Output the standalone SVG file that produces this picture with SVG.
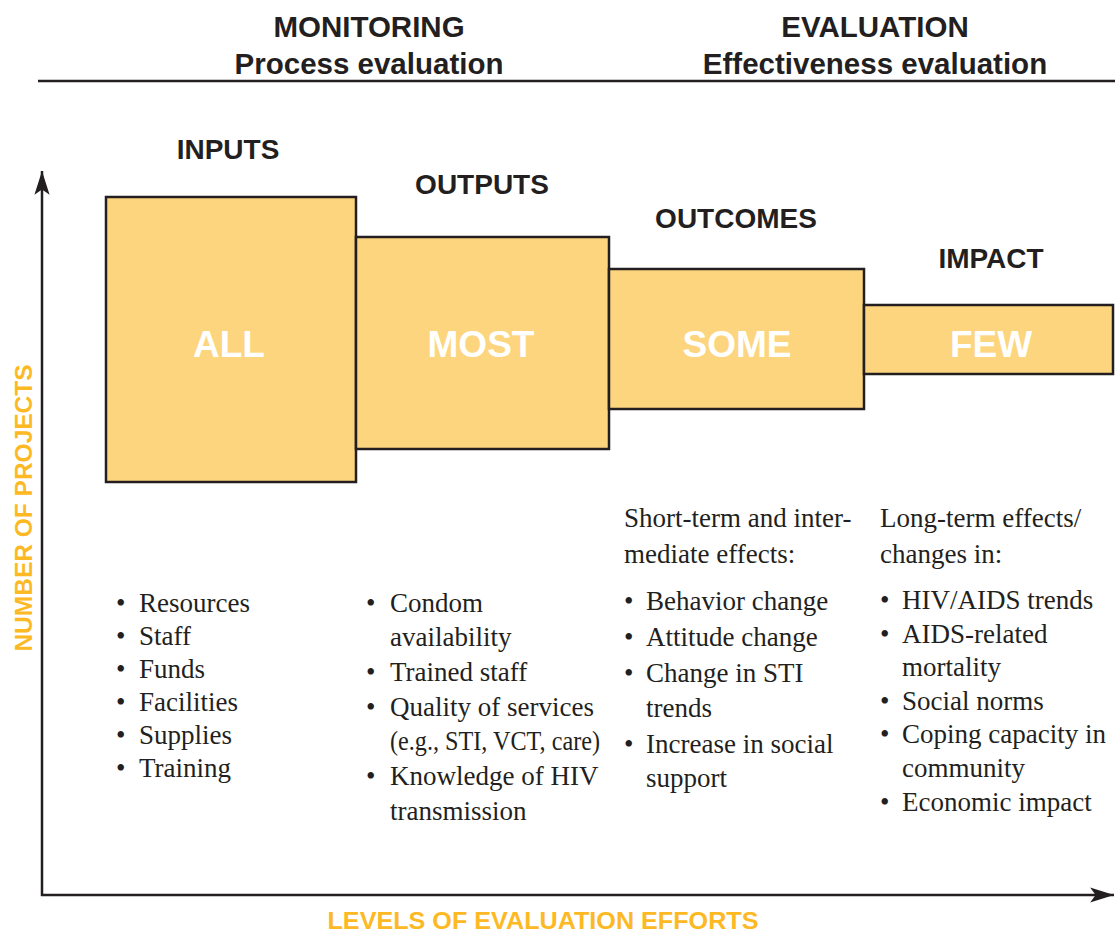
<svg xmlns="http://www.w3.org/2000/svg" width="1115" height="932" viewBox="0 0 1115 932">
<style>
.hd{font-family:"Liberation Sans",Arial,sans-serif;font-weight:bold;fill:#231F20;text-anchor:middle}
.top{font-size:29.5px}
.lab{font-size:28px}
.big{font-family:"Liberation Sans",Arial,sans-serif;font-weight:bold;font-size:37px;fill:#FFFFFF;text-anchor:middle}
.box{fill:#FDD57E;stroke:#231F20;stroke-width:2.5}
.ax{font-family:"Liberation Sans",Arial,sans-serif;font-weight:bold;fill:#FDB924;text-anchor:middle}
.bl{font-family:"Liberation Serif","Times New Roman",serif;font-size:27px;fill:#231F20}
.line{stroke:#231F20;stroke-width:2.5;fill:none}
</style>
<defs>
<marker id="arr" markerUnits="userSpaceOnUse" markerWidth="26" markerHeight="16" refX="22" refY="7" orient="auto" viewBox="0 0 24 14">
<path d="M0,0 L22,7 L0,14 L5,7 Z" fill="#231F20"/>
</marker>
</defs>
<g id="header">
<text class="hd top" x="369" y="37">MONITORING</text>
<text class="hd top" x="369" y="74">Process evaluation</text>
<text class="hd top" x="875" y="37">EVALUATION</text>
<text class="hd top" x="875" y="74">Effectiveness evaluation</text>
<line class="line" x1="38" y1="81" x2="1115" y2="81"/>
</g>
<g id="connectors">
<line class="line" x1="42" y1="896" x2="42" y2="171" marker-end="url(#arr)"/>
<line class="line" x1="41" y1="895" x2="1114" y2="895" marker-end="url(#arr)"/>
</g>
<g id="axis-labels">
<text class="ax" font-size="24.5" transform="translate(32,508) rotate(-90)" x="0" y="0">NUMBER OF PROJECTS</text>
<text class="ax" font-size="23" x="543" y="929" textLength="431" lengthAdjust="spacingAndGlyphs">LEVELS OF EVALUATION EFFORTS</text>
</g>
<g id="inputs">
<text class="hd lab" x="228" y="159">INPUTS</text>
<rect class="box" x="106" y="197" width="250" height="285"/>
<text class="big" x="229" y="357">ALL</text>
<text class="bl" y="612"><tspan x="116">•</tspan><tspan x="139">Resources</tspan></text>
<text class="bl" y="645"><tspan x="116">•</tspan><tspan x="139">Staff</tspan></text>
<text class="bl" y="678"><tspan x="116">•</tspan><tspan x="139">Funds</tspan></text>
<text class="bl" y="711"><tspan x="116">•</tspan><tspan x="139">Facilities</tspan></text>
<text class="bl" y="744"><tspan x="116">•</tspan><tspan x="139">Supplies</tspan></text>
<text class="bl" y="777"><tspan x="116">•</tspan><tspan x="139">Training</tspan></text>
</g>
<g id="outputs">
<text class="hd lab" x="482" y="194">OUTPUTS</text>
<rect class="box" x="356" y="237" width="253" height="212"/>
<text class="big" x="481" y="357">MOST</text>
<text class="bl" y="612"><tspan x="366">•</tspan><tspan x="390">Condom</tspan></text>
<text class="bl" y="646"><tspan x="390">availability</tspan></text>
<text class="bl" y="681"><tspan x="366">•</tspan><tspan x="390">Trained staff</tspan></text>
<text class="bl" y="716"><tspan x="366">•</tspan><tspan x="390">Quality of services</tspan></text>
<text class="bl" x="390" y="750" textLength="210" lengthAdjust="spacingAndGlyphs">(e.g., STI, VCT, care)</text>
<text class="bl" y="785"><tspan x="366">•</tspan><tspan x="390">Knowledge of HIV</tspan></text>
<text class="bl" y="820"><tspan x="390">transmission</tspan></text>
</g>
<g id="outcomes">
<text class="hd lab" x="736" y="228">OUTCOMES</text>
<rect class="box" x="609" y="269" width="255" height="140"/>
<text class="big" x="737" y="357">SOME</text>
<text class="bl" x="624" y="527">Short-term and inter-</text>
<text class="bl" x="624" y="563">mediate effects:</text>
<text class="bl" y="610"><tspan x="624">•</tspan><tspan x="646">Behavior change</tspan></text>
<text class="bl" y="646"><tspan x="624">•</tspan><tspan x="646">Attitude change</tspan></text>
<text class="bl" y="682"><tspan x="624">•</tspan><tspan x="646">Change in STI</tspan></text>
<text class="bl" y="717"><tspan x="646">trends</tspan></text>
<text class="bl" y="753"><tspan x="624">•</tspan><tspan x="646">Increase in social</tspan></text>
<text class="bl" y="787"><tspan x="646">support</tspan></text>
</g>
<g id="impact">
<text class="hd lab" x="991" y="268">IMPACT</text>
<rect class="box" x="864" y="305" width="249" height="69"/>
<text class="big" x="991" y="357">FEW</text>
<text class="bl" x="880" y="527">Long-term effects/</text>
<text class="bl" x="880" y="563">changes in:</text>
<text class="bl" y="609"><tspan x="880">•</tspan><tspan x="902">HIV/AIDS trends</tspan></text>
<text class="bl" y="643"><tspan x="880">•</tspan><tspan x="902">AIDS-related</tspan></text>
<text class="bl" y="676"><tspan x="902">mortality</tspan></text>
<text class="bl" y="710"><tspan x="880">•</tspan><tspan x="902">Social norms</tspan></text>
<text class="bl" y="743"><tspan x="880">•</tspan><tspan x="902">Coping capacity in</tspan></text>
<text class="bl" y="777"><tspan x="902">community</tspan></text>
<text class="bl" y="811"><tspan x="880">•</tspan><tspan x="902">Economic impact</tspan></text>
</g>
</svg>
